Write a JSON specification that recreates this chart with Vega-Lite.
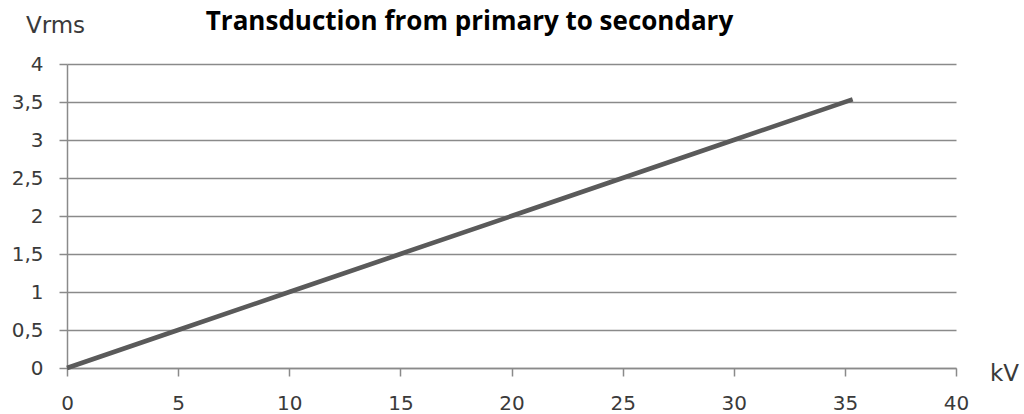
{
  "$schema": "https://vega.github.io/schema/vega-lite/v6.json",
  "autosize": "none",
  "width": 889,
  "height": 304,
  "padding": {"left": 67, "top": 64, "right": 68, "bottom": 46},
  "background": "white",
  "config": {
    "view": {"stroke": null},
    "axis": {
      "labelFont": "DejaVu Sans",
      "labelFontSize": 20,
      "labelColor": "#3a3a3a",
      "titleFont": "DejaVu Sans",
      "titleFontSize": 23,
      "titleFontWeight": "normal",
      "titleColor": "#3a3a3a",
      "domainColor": "#8a8a8a",
      "tickColor": "#8a8a8a",
      "gridColor": "#8a8a8a",
      "domainWidth": 1.5,
      "tickWidth": 1.5,
      "gridWidth": 1.5
    }
  },
  "data": {
    "values": [
      {"kV": 0, "Vrms": 0},
      {"kV": 5, "Vrms": 0.5},
      {"kV": 10, "Vrms": 1.0},
      {"kV": 15, "Vrms": 1.5},
      {"kV": 20, "Vrms": 2.0},
      {"kV": 25, "Vrms": 2.5},
      {"kV": 30, "Vrms": 3.0},
      {"kV": 35.35, "Vrms": 3.535}
    ]
  },
  "resolve": {"axis": {"x": "independent", "y": "independent"}},
  "layer": [
    {
      "mark": {"type": "line", "color": "#5a5a5a", "strokeWidth": 4.5, "strokeCap": "butt"},
      "encoding": {
        "x": {
          "field": "kV",
          "type": "quantitative",
          "scale": {"domain": [0, 40], "nice": false, "zero": true},
          "axis": {
            "orient": "bottom",
            "values": [0, 5, 10, 15, 20, 25, 30, 35, 40],
            "grid": false,
            "tickSize": 8,
            "labelPadding": 17,
            "labelFlush": false,
            "labelOverlap": false,
            "title": "kV",
            "titleAngle": 0,
            "titleAlign": "center",
            "titleBaseline": "alphabetic",
            "titleX": 937,
            "titleY": 12
          }
        },
        "y": {
          "field": "Vrms",
          "type": "quantitative",
          "scale": {"domain": [0, 4], "nice": false, "zero": true},
          "axis": {
            "orient": "left",
            "values": [0, 0.5, 1, 1.5, 2, 2.5, 3, 3.5, 4],
            "grid": true,
            "tickSize": 8,
            "labelPadding": 16,
            "labelFlush": false,
            "labelOverlap": false,
            "labelExpr": "replace(format(datum.value, '~g'), '.', ',')",
            "title": "Vrms",
            "titleAngle": 0,
            "titleAlign": "center",
            "titleBaseline": "alphabetic",
            "titleX": -12,
            "titleY": -32
          }
        }
      }
    },
    {
      "mark": {"type": "line", "opacity": 0, "strokeWidth": 0},
      "encoding": {
        "x": {
          "field": "kV",
          "type": "quantitative",
          "axis": {
            "orient": "top",
            "domain": false,
            "ticks": false,
            "labels": false,
            "grid": false,
            "title": "Transduction from primary to secondary",
            "titleFont": "Open Sans",
            "titleFontSize": 26,
            "titleFontWeight": "bold",
            "titleColor": "#000000",
            "titleAngle": 0,
            "titleAlign": "center",
            "titleBaseline": "alphabetic",
            "titleX": 402,
            "titleY": -35
          }
        },
        "y": {"field": "Vrms", "type": "quantitative", "axis": null}
      }
    }
  ]
}
